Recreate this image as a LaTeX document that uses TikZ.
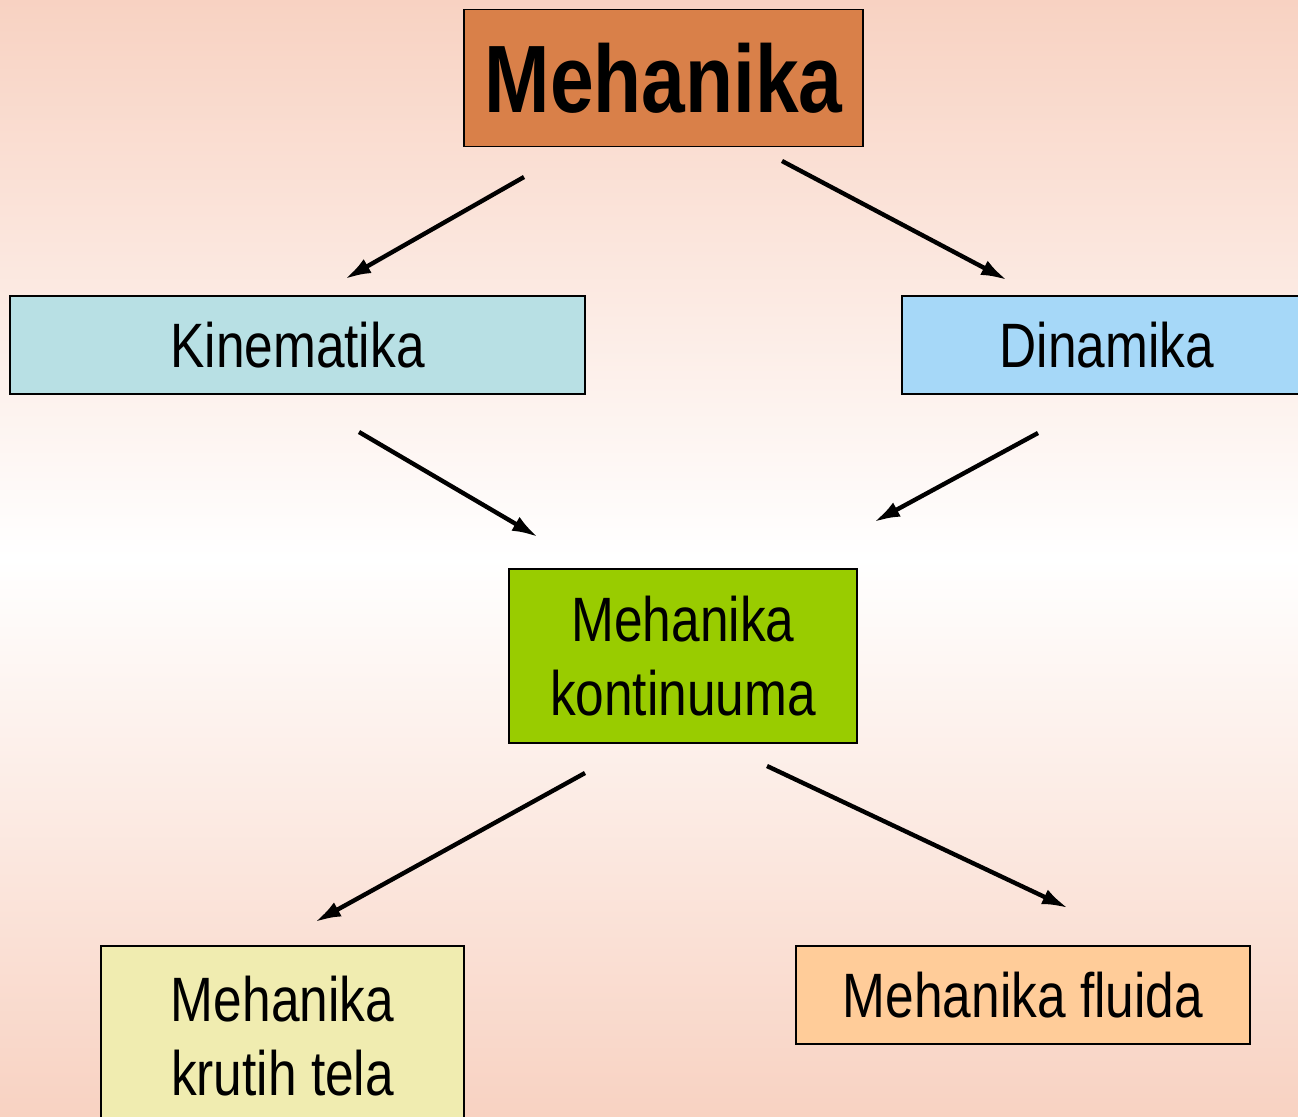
\documentclass[tikz,border=0pt]{standalone}
\usepackage{xcolor}
\usepackage{fontspec}
\setmainfont{Liberation Sans}[FakeStretch=0.82]
\usepackage{tikz}
\usetikzlibrary{shapes,arrows.meta,positioning}

\definecolor{bgpeach}{HTML}{F8D2C2}
\definecolor{titlefill}{HTML}{D98049}
\definecolor{kinfill}{HTML}{B8E0E4}
\definecolor{dinfill}{HTML}{A6D8F8}
\definecolor{kontfill}{HTML}{99CC00}
\definecolor{krutfill}{HTML}{F0ECB0}
\definecolor{fluidfill}{HTML}{FFCC99}

\tikzset{
    box/.style={
        draw=black,
        line width=1.1pt,
        inner sep=0pt,
        align=center,
        font=\fontsize{35.7}{42.5}\selectfont
    },
    flow/.style={
        line width=2.5pt,
        -{Latex[length=0.52cm,width=0.32cm]}
    }
}

\begin{document}
\begin{tikzpicture}[x=0.02cm,y=-0.02cm]
                \clip (0,0) rectangle (1298,1116);
                \shade[
                    top color=bgpeach,
                    bottom color=bgpeach,
                    middle color=white
                ] (0,0) rectangle (1298,1116);

                % boxes
                \node[
                    box,
                    fill=titlefill,
                    minimum width=7.98cm,
                    minimum height=2.74cm,
                    font=\fontsize{54.5}{60}\selectfont\bfseries
                ] (meh) at (663.5,78) {Mehanika};

                \node[
                    box,
                    fill=kinfill,
                    minimum width=11.5cm,
                    minimum height=1.96cm
                ] (kin) at (297.5,345) {Kinematika};

                \node[
                    box,
                    fill=dinfill,
                    minimum width=8.2cm,
                    minimum height=1.96cm
                ] (din) at (1107,345) {Dinamika};

                \node[
                    box,
                    fill=kontfill,
                    minimum width=6.96cm,
                    minimum height=3.48cm
                ] (kont) at (683,656) {Mehanika\\kontinuuma};

                \node[
                    box,
                    fill=krutfill,
                    minimum width=7.26cm,
                    minimum height=3.6cm
                ] (krut) at (282.5,1036) {Mehanika\\krutih tela};

                \node[
                    box,
                    fill=fluidfill,
                    minimum width=9.08cm,
                    minimum height=1.96cm
                ] (fluid) at (1023,995) {Mehanika fluida};

                % arrow ends
                \coordinate (a1) at (524,177);  \coordinate (b1) at (345,279);
                \coordinate (a2) at (782,161);  \coordinate (b2) at (1007,280);
                \coordinate (a3) at (359,432);  \coordinate (b3) at (538,537);
                \coordinate (a4) at (1038,433); \coordinate (b4) at (874,522);
                \coordinate (a5) at (585,773);  \coordinate (b5) at (315,922);
                \coordinate (a6) at (767,766);  \coordinate (b6) at (1068,908);

                \foreach \i in {1,...,6}
                    \draw[flow] (a\i) -- (b\i);
\end{tikzpicture}
\end{document}
